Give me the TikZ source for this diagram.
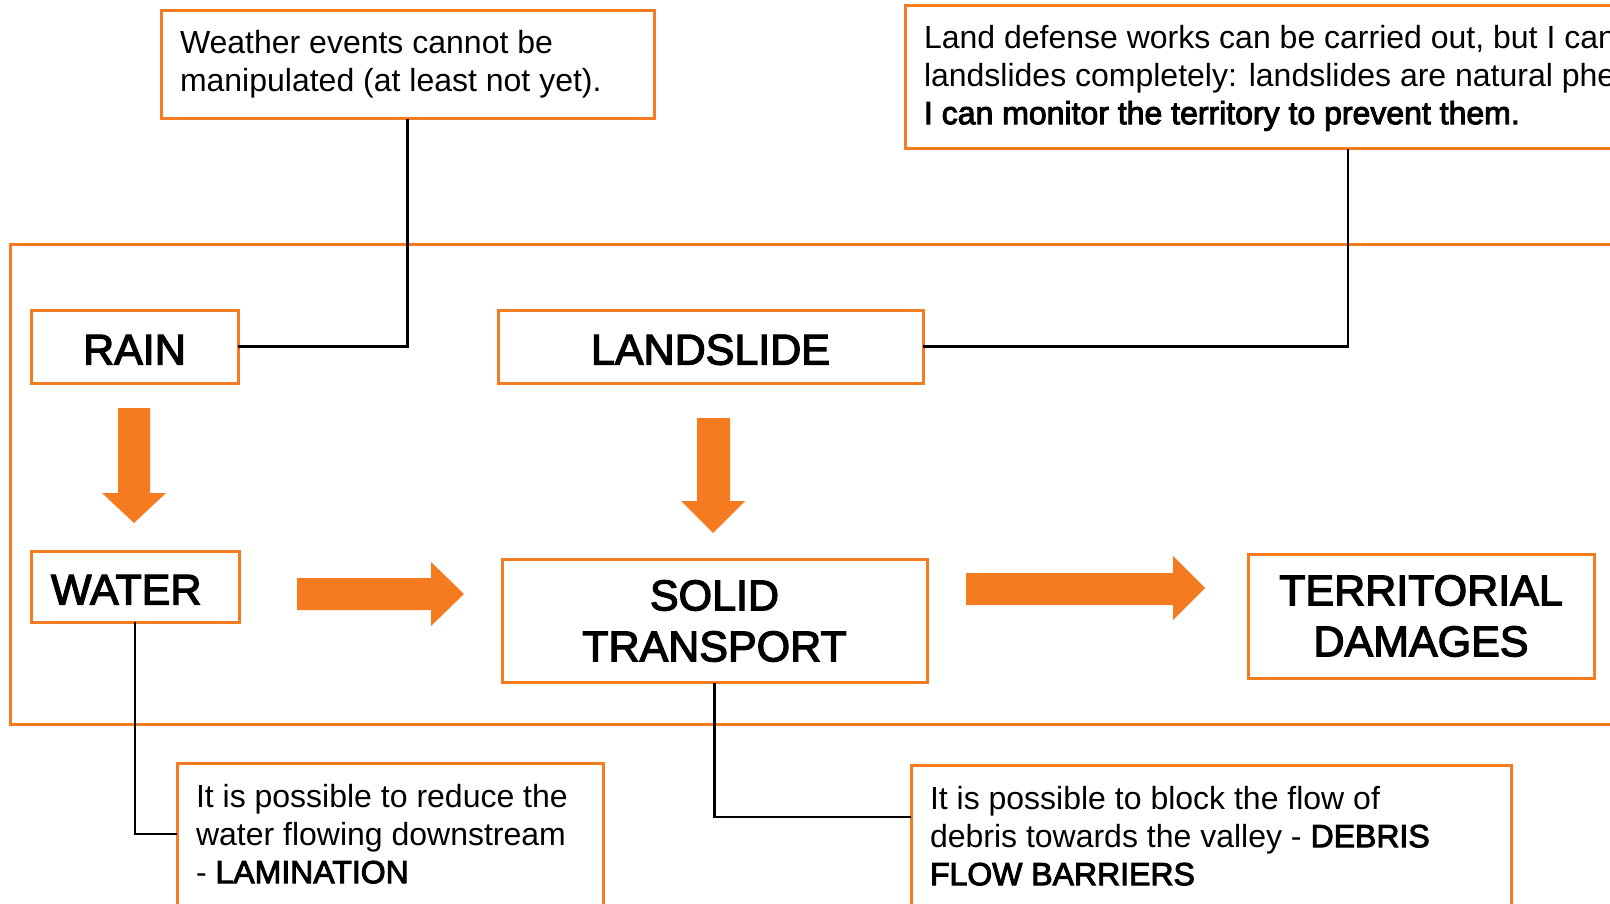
\documentclass[tikz,border=0pt]{standalone}
\usepackage{fontspec}
\setmainfont{Liberation Sans}
\newfontfamily\medfont{Liberation Sans}[FakeBold=3]
\usetikzlibrary{calc}
\definecolor{floodorange}{RGB}{244,123,32}
\newcommand{\notetext}[3]{\parbox[t][#2][t]{#1}{\raggedright #3}}
\newcommand{\notestress}[1]{{\medfont #1}}
\tikzset{
  stage/.style={draw=floodorange, line width=3pt, outer sep=0pt, align=center,
    font=\fontsize{43}{51}\medfont},
  oneline/.style={text height=36pt, text depth=0pt},
  note/.style={draw=floodorange, line width=3pt, outer sep=0pt, inner xsep=19pt,
    inner ysep=19pt, anchor=north west, font=\fontsize{32}{38}\selectfont},
  link/.style={line width=2.2pt, black},
  flow/.style={fill=floodorange},
}

\begin{document}
\begin{tikzpicture}[x=1pt, y=-1pt]
  %%%%% START %%%%%
  \useasboundingbox (0,0) rectangle (1610,904);
  \clip (0,0) rectangle (1610,904);

  % outer frame
  \draw[floodorange, line width=3pt] (10,245) rectangle (1700,724);

  % notes
  \node[note] (weather) at (161,11)
    {\notetext{455pt}{70pt}{Weather events cannot be\\ manipulated (at least not yet).}};
  \node[note] (defense) at (905,6)
    {\notetext{900pt}{105pt}{Land defense works can be carried out, but I cannot stop\\
      landslides completely: landslides are natural phenomena.\\
      \notestress{I can monitor the territory to prevent them.}}};
  \node[note, inner ysep=21pt] (lam) at (177,763)
    {\notetext{388pt}{200pt}{It is possible to reduce the\\ water flowing downstream\\
      - \notestress{LAMINATION}}};
  \node[note, inner ysep=21pt] (debris) at (911,765)
    {\notetext{562pt}{200pt}{It is possible to block the flow of\\
      debris towards the valley - \notestress{DEBRIS}\\ \notestress{FLOW BARRIERS}}};

  % stages
  \node[stage, oneline, minimum width=207pt, minimum height=73pt] (rain) at (134.5,346.5) {RAIN};
  \node[stage, oneline, minimum width=425pt, minimum height=73pt] (landslide) at (710.5,346.5) {LANDSLIDE};
  \node[stage, oneline, minimum width=208pt, minimum height=71pt, text width=168pt, align=left,
    inner xsep=20pt] (water) at (135,586.5) {WATER};
  \node[stage, minimum width=425pt, minimum height=123pt] (solid) at (714.5,621) {SOLID\\TRANSPORT};
  \node[stage, minimum width=346pt, minimum height=124pt] (damage) at (1421,616) {TERRITORIAL\\DAMAGES};

  % block arrows
  \fill[flow] (118,408) -- (150,408) -- (150,493) -- (166,493) -- (134,523) -- (102,493) -- (118,493) -- cycle;
  \fill[flow] (697,418) -- (730,418) -- (730,501) -- (745,501) -- (713,533) -- (681,501) -- (697,501) -- cycle;
  \fill[flow] (297,578) -- (431,578) -- (431,562) -- (464,594) -- (431,626) -- (431,610) -- (297,610) -- cycle;
  \fill[flow] (966,573) -- (1173,573) -- (1173,556) -- (1205,588) -- (1173,620) -- (1173,605) -- (966,605) -- cycle;

  % connectors
  \coordinate (defense-foot) at ($(defense.south west)+(443,0)$);
  \coordinate (lam-hook) at ($(lam.north west)+(0,71)$);
  \coordinate (debris-hook) at ($(debris.north west)+(0,52)$);
  \draw[link] (weather.south) |- (rain.east);
  \draw[link] (defense-foot) |- (landslide.east);
  \draw[link] (water.south) |- (lam-hook);
  \draw[link] (solid.south) |- (debris-hook);
  %%%%% END %%%%%
\end{tikzpicture}
\end{document}
